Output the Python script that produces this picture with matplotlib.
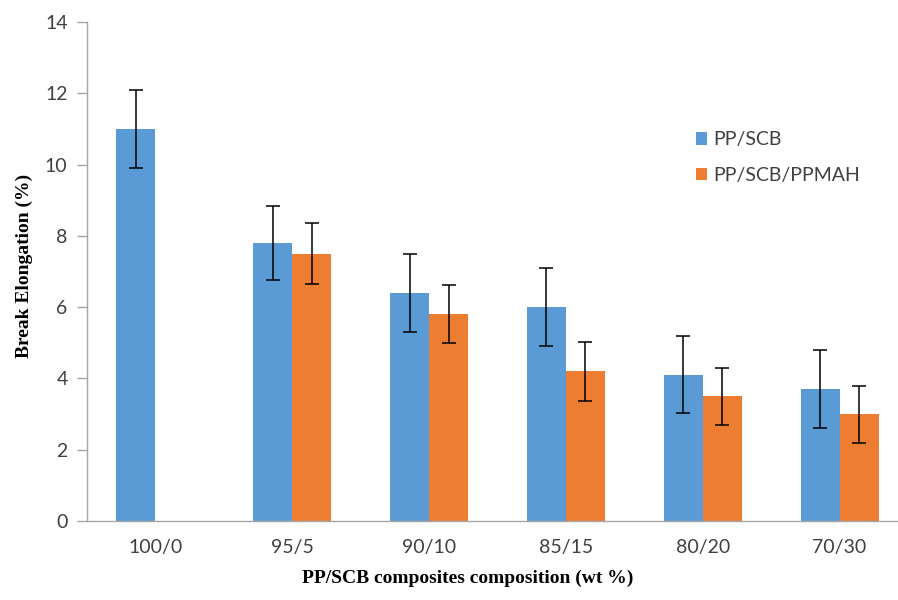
import numpy as np
import matplotlib
matplotlib.use('Agg')
import matplotlib.pyplot as plt

# data
compositions = ['100/0', '95/5', '90/10', '85/15', '80/20', '70/30']
pp_scb = [11.0, 7.8, 6.4, 6.0, 4.1, 3.7]
pp_scb_err = [1.1, 1.05, 1.1, 1.1, 1.08, 1.1]
pp_scb_ppmah = [np.nan, 7.5, 5.8, 4.2, 3.5, 3.0]
pp_scb_ppmah_err = [np.nan, 0.85, 0.82, 0.83, 0.8, 0.8]

blue = '#5B9BD5'
orange = '#ED7D31'
grey = '#A6A6A6'

fig = plt.figure(figsize=(8.98, 6.0), dpi=100)
ax = fig.add_axes([87/898, 1-521/600, (908-87)/898, (521-22)/600])

x = np.arange(len(compositions))
w = 0.285
ax.bar(x - w/2, pp_scb, w, color=blue, label='PP/SCB', zorder=2)
ax.bar(x + w/2, pp_scb_ppmah, w, color=orange, label='PP/SCB/PPMAH', zorder=2)
ax.errorbar(x - w/2, pp_scb, yerr=pp_scb_err, fmt='none', ecolor='black',
            elinewidth=1.1, capsize=5, capthick=1.1, zorder=3)
ax.errorbar(x + w/2, pp_scb_ppmah, yerr=pp_scb_ppmah_err, fmt='none', ecolor='black',
            elinewidth=1.1, capsize=5, capthick=1.1, zorder=3)

ax.set_xlim(-0.5, len(compositions) - 0.5)
ax.set_ylim(0, 14)
ax.set_yticks(range(0, 15, 2))
ax.set_xticks(x)
ax.set_xticklabels(compositions)

for s in ['top', 'right']:
    ax.spines[s].set_visible(False)
for s in ['left', 'bottom']:
    ax.spines[s].set_color(grey)
    ax.spines[s].set_linewidth(1.0)

ax.tick_params(axis='x', length=0, pad=13, labelsize=14, labelcolor='#404040')
ax.tick_params(axis='y', length=7, width=1.0, color=grey, pad=7,
               labelsize=14, labelcolor='#404040')
for lab in ax.get_xticklabels() + ax.get_yticklabels():
    lab.set_family('Lato')

fig.text(468/898, 1-578/600, 'PP/SCB composites composition (wt %)',
         family='Liberation Serif', fontweight='bold', fontsize=14,
         ha='center', va='center')
fig.text(24/898, 1-266/600, 'Break Elongation (%)', family='Liberation Serif',
         fontweight='bold', fontsize=14, rotation=90, ha='center', va='center')

leg = ax.legend(loc='upper left', bbox_to_anchor=(678/898, 1-114/600),
                bbox_transform=fig.transFigure, frameon=False,
                handlelength=0.6, handleheight=0.6, handletextpad=0.3,
                labelspacing=0.95, prop={'family': 'Lato', 'size': 14})
for t in leg.get_texts():
    t.set_color('#404040')

fig.savefig('out.png', dpi=100)
